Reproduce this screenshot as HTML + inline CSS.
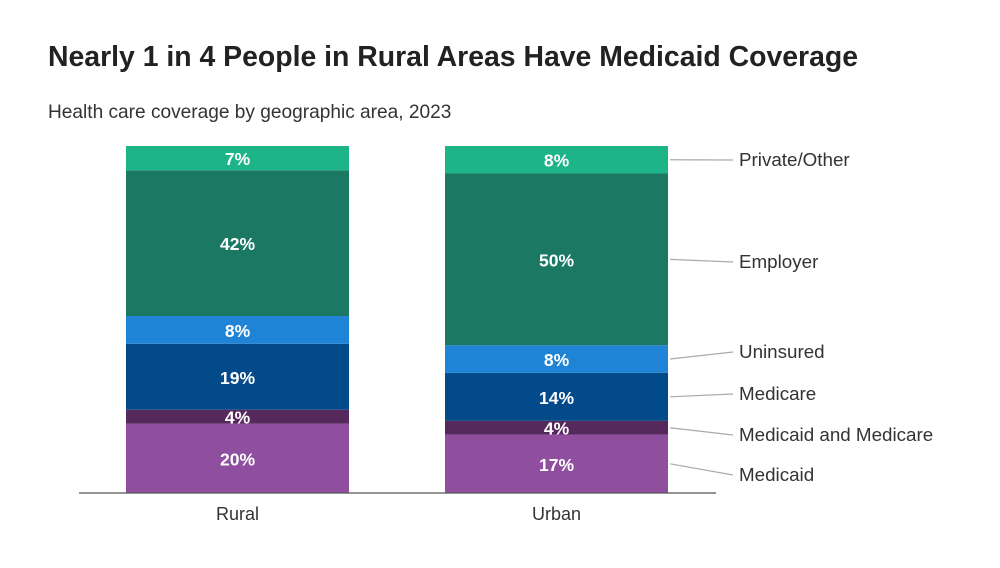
<!DOCTYPE html>
<html><head><meta charset="utf-8"><style>
body{margin:0;background:#fff;font-family:"Liberation Sans",sans-serif;}
</style></head><body>
<svg width="1000" height="563" xmlns="http://www.w3.org/2000/svg">
<text x="48" y="66" font-size="28.4" font-weight="bold" fill="#222">Nearly 1 in 4 People in Rural Areas Have Medicaid Coverage</text>
<text x="48" y="118" font-size="19.1" fill="#333">Health care coverage by geographic area, 2023</text>
<g id="bars"></g>
<line x1="79" y1="493" x2="716" y2="493" stroke="#555" stroke-width="1.2"/>
</svg>
<script>
const categories = ["Rural","Urban"];
const seriesNames = ["Medicaid","Medicaid and Medicare","Medicare","Uninsured","Employer","Private/Other"];
const rural = [20,4,19,8,42,7];
const urban = [17,4,14,8,50,8];
const colors = ["#8f4e9e","#56295c","#034a8a","#1f84d6","#1b7862","#1db487"];
const values=[rural,urban];
const gBars=document.getElementById('bars');
const NS="http://www.w3.org/2000/svg";
const barX=[126,445], barW=223, baseY=493, topY=146;
const labelY=[481,441,400,358,268,166];
function mk(t,a){const e=document.createElementNS(NS,t);for(const k in a)e.setAttribute(k,a[k]);gBars.appendChild(e);return e;}
values.forEach((vals,bi)=>{
  const sum=vals.reduce((a,b)=>a+b,0);
  const yScale=v=>v/sum*(baseY-topY);
  let y=baseY;
  vals.forEach((v,si)=>{
    const h=yScale(v);
    const r=mk('rect',{x:barX[bi],y:y-h,width:barW,height:h,fill:colors[si]});
    
    
    const t=mk('text',{x:barX[bi]+barW/2,y:y-h/2+7,'text-anchor':'middle','font-size':17.5,'font-weight':'bold',fill:'#fff'});
    t.textContent=v+'%';
    
    
    if(bi===1){
      const l=mk('line',{x1:barX[bi]+barW+2,y1:y-h/2,x2:733,y2:labelY[si]-6,stroke:'#aaa','stroke-width':1.2});
      
      
      const lt=mk('text',{x:739,y:labelY[si],'font-size':18.8,fill:'#333'});
      lt.textContent=seriesNames[si];
      
      
    }
    y-=h;
  });
  const c=mk('text',{x:barX[bi]+barW/2,y:520,'text-anchor':'middle','font-size':18,fill:'#333'});
  c.textContent=categories[bi];
  
  
});
</script>
</body></html>
